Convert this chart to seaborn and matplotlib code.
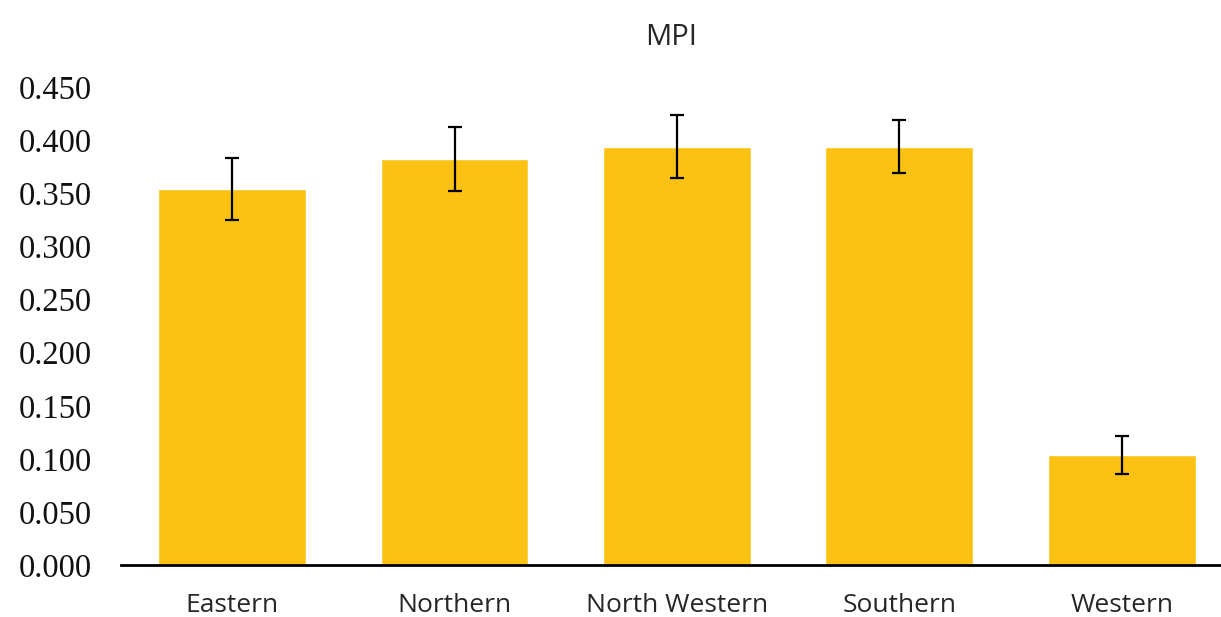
import numpy as np
import pandas as pd
import matplotlib
matplotlib.use("Agg")
import matplotlib.pyplot as plt
import seaborn as sns

regions = ["Eastern", "Northern", "North Western", "Southern", "Western"]
mpi = [0.354, 0.382, 0.394, 0.394, 0.104]
err = [0.029, 0.030, 0.030, 0.025, 0.018]
yticks = [0.0, 0.05, 0.1, 0.15, 0.2, 0.25, 0.3, 0.35, 0.4, 0.45]

df = pd.DataFrame({"region": regions, "mpi": mpi, "err": err})

sns.set_theme(style="white")
plt.rcParams['font.family'] = ['Open Sans', 'DejaVu Sans']

fig = plt.figure(figsize=(12.21, 6.17), dpi=100)
ax = fig.add_axes([0.099, 0.084, 0.901, 0.775])

sns.barplot(data=df, x="region", y="mpi", color="#FBC213", width=0.665,
            saturation=1, errorbar=None, ax=ax)
# error bars at the category positions
ax.errorbar(x=np.arange(len(regions)), y=df["mpi"], yerr=df["err"],
            fmt="none", ecolor="black", elinewidth=1.6, capsize=4.8, capthick=1.6)

ax.set_ylim(0, 0.45)
ax.set_xlim(-0.5, 4.446)
ax.set_yticks(yticks)
ax.set_yticklabels([f"{t:.3f}" for t in yticks], family="Liberation Serif",
                   fontsize=23.5, color="#111111")
ax.tick_params(axis="x", labelsize=19, colors="#262626", length=0, pad=20)
ax.tick_params(axis="y", length=0, pad=21)
ax.set_xlabel("")
ax.set_ylabel("")
ax.set_title("MPI", fontsize=21, color="#262626", pad=30)

sns.despine(ax=ax, left=True)
ax.spines["bottom"].set_color("black")
ax.spines["bottom"].set_linewidth(2)

fig.savefig("out.png", dpi=100)
